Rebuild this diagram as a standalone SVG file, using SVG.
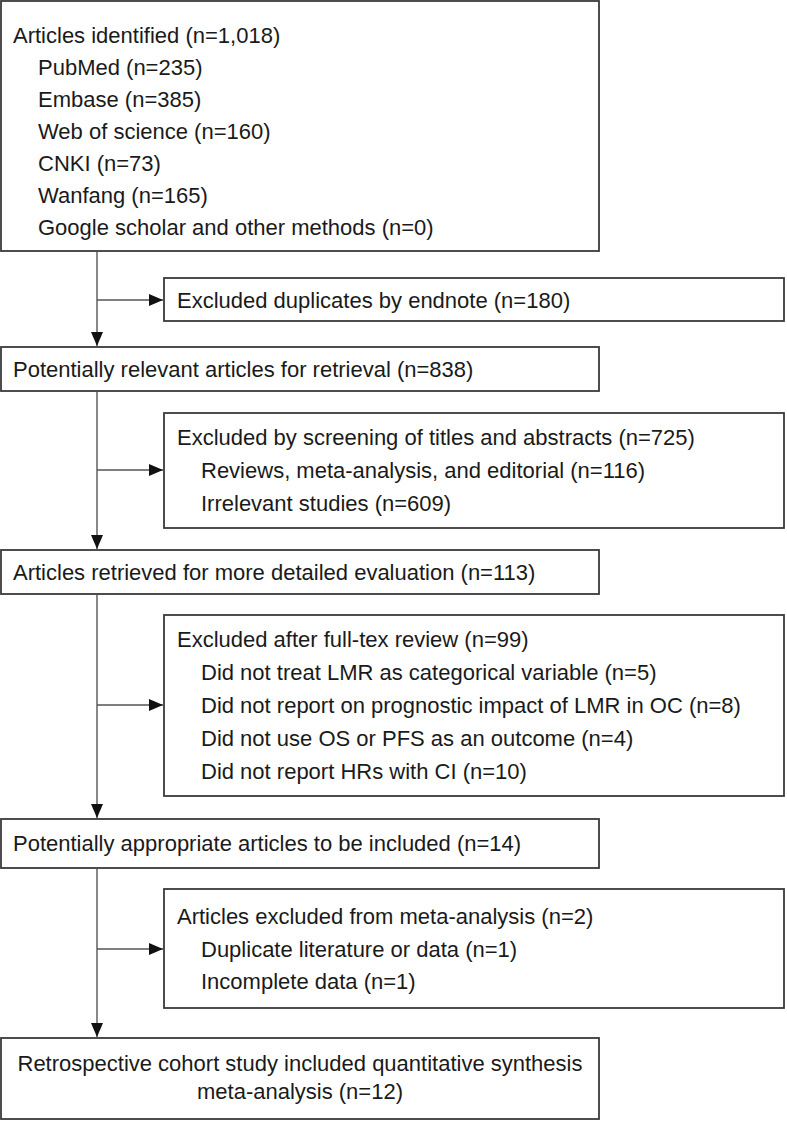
<svg xmlns="http://www.w3.org/2000/svg" width="787" height="1122" viewBox="0 0 787 1122">
  <style>
    .box { fill: #ffffff; stroke: #3a3a3a; stroke-width: 1.8; }
    .txt { font-family: "Liberation Sans", Arial, sans-serif; font-size: 22px; fill: #1a1a1a; }
    .con { stroke: #555555; stroke-width: 1.4; fill: none; }
  </style>
  <defs>
    <marker id="arr" viewBox="0 0 14 14" refX="14" refY="7" markerWidth="14" markerHeight="14" markerUnits="userSpaceOnUse" orient="auto">
      <path d="M0,1 L14,7 L0,13 Z" fill="#111111"/>
    </marker>
  </defs>
  <rect width="787" height="1122" fill="#ffffff"/>

  <g id="connectors">
    <line class="con" x1="97" y1="252" x2="97" y2="346" marker-end="url(#arr)"/>
    <line class="con" x1="97" y1="300" x2="163" y2="300" marker-end="url(#arr)"/>
    <line class="con" x1="97" y1="392" x2="97" y2="549" marker-end="url(#arr)"/>
    <line class="con" x1="97" y1="470" x2="163" y2="470" marker-end="url(#arr)"/>
    <line class="con" x1="97" y1="595" x2="97" y2="818" marker-end="url(#arr)"/>
    <line class="con" x1="97" y1="705" x2="163" y2="705" marker-end="url(#arr)"/>
    <line class="con" x1="97" y1="869" x2="97" y2="1037" marker-end="url(#arr)"/>
    <line class="con" x1="97" y1="949" x2="163" y2="949" marker-end="url(#arr)"/>
  </g>

  <g id="identified">
    <rect class="box" x="1" y="1" width="598" height="250"/>
    <text class="txt" x="13" y="43">Articles identified (n=1,018)</text>
    <text class="txt" x="38" y="75">PubMed (n=235)</text>
    <text class="txt" x="38" y="107">Embase (n=385)</text>
    <text class="txt" x="38" y="139">Web of science (n=160)</text>
    <text class="txt" x="38" y="171">CNKI (n=73)</text>
    <text class="txt" x="38" y="203">Wanfang (n=165)</text>
    <text class="txt" x="38" y="235">Google scholar and other methods (n=0)</text>
  </g>

  <g id="excluded-duplicates">
    <rect class="box" x="164" y="278" width="620" height="43"/>
    <text class="txt" x="177" y="308">Excluded duplicates by endnote (n=180)</text>
  </g>

  <g id="relevant">
    <rect class="box" x="1" y="347" width="598" height="44"/>
    <text class="txt" x="13" y="377">Potentially relevant articles for retrieval (n=838)</text>
  </g>

  <g id="excluded-screening">
    <rect class="box" x="164" y="413" width="620" height="115"/>
    <text class="txt" x="177" y="445">Excluded by screening of titles and abstracts (n=725)</text>
    <text class="txt" x="201" y="478">Reviews, meta-analysis, and editorial (n=116)</text>
    <text class="txt" x="201" y="511">Irrelevant studies (n=609)</text>
  </g>

  <g id="retrieved">
    <rect class="box" x="1" y="550" width="598" height="44"/>
    <text class="txt" x="13" y="580">Articles retrieved for more detailed evaluation (n=113)</text>
  </g>

  <g id="excluded-fulltext">
    <rect class="box" x="164" y="615" width="620" height="181"/>
    <text class="txt" x="177" y="647">Excluded after full-tex review (n=99)</text>
    <text class="txt" x="201" y="680">Did not treat LMR as categorical variable (n=5)</text>
    <text class="txt" x="201" y="713">Did not report on prognostic impact of LMR in OC (n=8)</text>
    <text class="txt" x="201" y="746">Did not use OS or PFS as an outcome (n=4)</text>
    <text class="txt" x="201" y="779">Did not report HRs with CI (n=10)</text>
  </g>

  <g id="appropriate">
    <rect class="box" x="1" y="819" width="598" height="49"/>
    <text class="txt" x="13" y="851">Potentially appropriate articles to be included (n=14)</text>
  </g>

  <g id="excluded-meta">
    <rect class="box" x="164" y="889" width="620" height="119"/>
    <text class="txt" x="177" y="924">Articles excluded from meta-analysis (n=2)</text>
    <text class="txt" x="201" y="957">Duplicate literature or data (n=1)</text>
    <text class="txt" x="201" y="989">Incomplete data (n=1)</text>
  </g>

  <g id="included">
    <rect class="box" x="1" y="1038" width="598" height="81"/>
    <text class="txt" x="300" y="1071" text-anchor="middle">Retrospective cohort study included quantitative synthesis</text>
    <text class="txt" x="300" y="1099" text-anchor="middle">meta-analysis (n=12)</text>
  </g>
</svg>
